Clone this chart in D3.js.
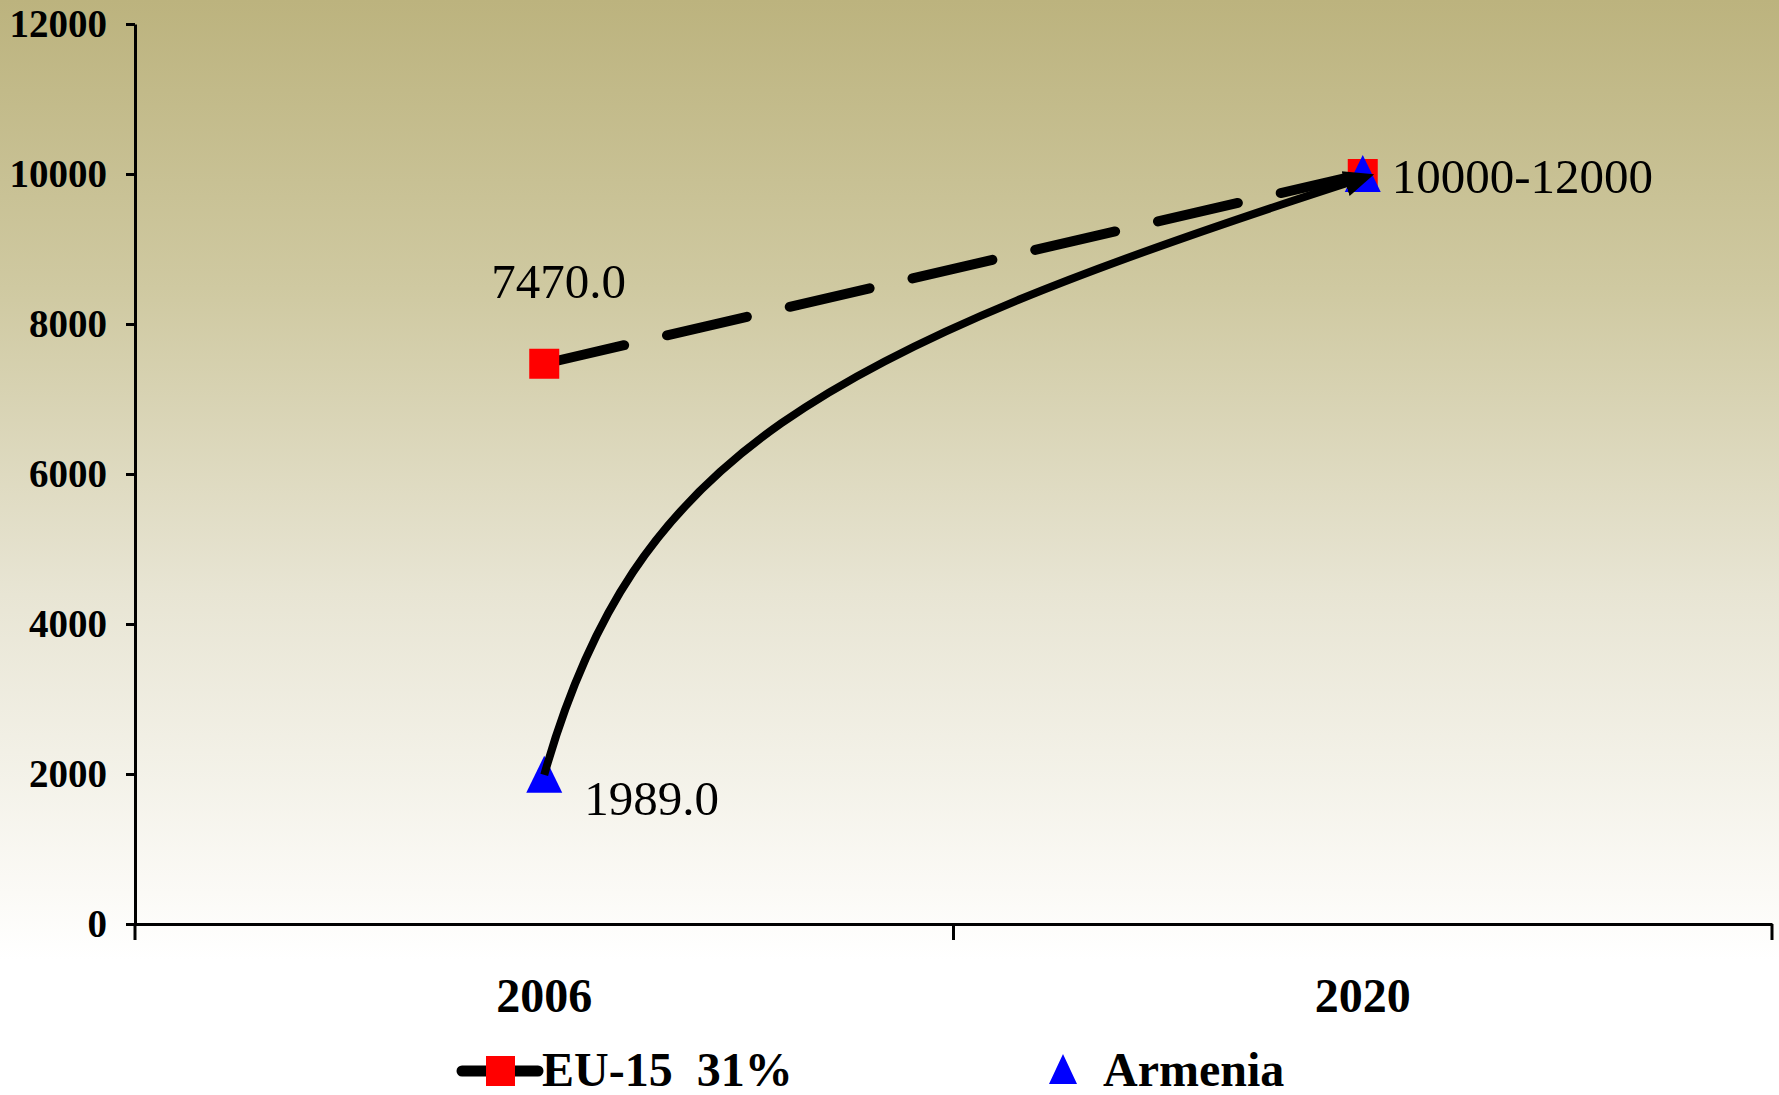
<!DOCTYPE html>
<html>
<head>
<meta charset="utf-8">
<script src="https://cdn.jsdelivr.net/npm/d3@7"></script>
<style>
  html, body { margin: 0; padding: 0; background: #fff; }
  svg { display: block; }
</style>
</head>
<body>
<svg id="viz"></svg>
<script>
// Chart values
const years = ["2006", "2020"];
const eu15Values = [7470, 10000];
const armeniaValues = [1989, 10000];
const yTicks = [0, 2000, 4000, 6000, 8000, 10000, 12000];
const seriesNames = ["EU-15  31%", "Armenia"];
const eu15Labels = ["7470.0", "10000-12000"];
const armeniaLabels = ["1989.0"];

const width = 1779, height = 1095;
const FONT = "'Liberation Serif', 'Times New Roman', serif";

const svg = d3.select("#viz")
  .attr("width", width)
  .attr("height", height);

const defs = svg.append("defs");

// Background gradient (olive to white)
const grad = defs.append("linearGradient")
  .attr("id", "bg")
  .attr("gradientUnits", "userSpaceOnUse")
  .attr("x1", 0).attr("y1", 0)
  .attr("x2", 0).attr("y2", 960);
grad.append("stop").attr("offset", 0).attr("stop-color", "#bcb37e");
grad.append("stop").attr("offset", 0.3).attr("stop-color", "#cfc9a1");
grad.append("stop").attr("offset", 0.62).attr("stop-color", "#e8e5d4");
grad.append("stop").attr("offset", 0.93).attr("stop-color", "#fbfaf6");
grad.append("stop").attr("offset", 1).attr("stop-color", "#ffffff");

svg.append("rect")
  .attr("width", width)
  .attr("height", height)
  .attr("fill", "url(#bg)");

// Arrowhead
defs.append("marker")
  .attr("id", "arrow")
  .attr("markerUnits", "userSpaceOnUse")
  .attr("viewBox", "0 -14 30 28")
  .attr("markerWidth", 30)
  .attr("markerHeight", 28)
  .attr("refX", 18)
  .attr("refY", 0)
  .attr("orient", "auto")
  .append("path")
  .attr("d", "M0,-13L30,0L0,13Z")
  .attr("fill", "#000");

// Scales
const x = d3.scaleBand().domain(years).range([135, 1772]);
const y = d3.scaleLinear().domain([0, 12000]).range([924, 24]);
const cx = d => x(d) + x.bandwidth() / 2;

// Y axis
const yAxis = svg.append("g")
  .attr("transform", "translate(135,0)")
  .call(d3.axisLeft(y).tickValues(yTicks).tickSize(9).tickSizeOuter(0).tickPadding(19).tickFormat(d3.format("d")));
yAxis.select(".domain").attr("stroke-width", 3);
yAxis.selectAll(".tick line").attr("stroke-width", 3);
yAxis.selectAll("text")
  .style("font-family", FONT)
  .style("font-weight", "bold")
  .style("font-size", "39px")
  .attr("fill", "#000");

// X axis (labels centred in bands, ticks at band edges)
const xAxis = svg.append("g")
  .attr("transform", `translate(0,${y(0)})`)
  .call(d3.axisBottom(x).tickSize(0).tickSizeOuter(0).tickPadding(54));
xAxis.select(".domain").attr("stroke-width", 3);
xAxis.selectAll("text")
  .style("font-family", FONT)
  .style("font-weight", "bold")
  .style("font-size", "48px")
  .attr("fill", "#000");

const edges = [x.range()[0]].concat(years.map(d => x(d) + x.bandwidth()));
xAxis.selectAll(".edge")
  .data(edges)
  .enter()
  .append("line")
  .attr("x1", d => d).attr("x2", d => d)
  .attr("y1", 0).attr("y2", 16)
  .attr("stroke", "#000")
  .attr("stroke-width", 3);

// EU-15 dashed line
const euPts = years.map((d, i) => [cx(d), y(eu15Values[i])]);
svg.append("path")
  .attr("d", d3.line()(euPts))
  .attr("fill", "none")
  .attr("stroke", "#000")
  .attr("stroke-width", 10)
  .attr("stroke-linecap", "round")
  .attr("stroke-dasharray", "82 44");

// Markers
const triPath = "M0,-19L18,18L-18,18Z";
svg.selectAll(".eu-dot")
  .data(euPts)
  .enter()
  .append("rect")
  .attr("class", "eu-dot")
  .attr("x", d => d[0] - 15)
  .attr("y", d => d[1] - 15)
  .attr("width", 30)
  .attr("height", 30)
  .attr("fill", "#ff0000");

const amPts = years.map((d, i) => [cx(d), y(armeniaValues[i])]);
svg.selectAll(".am-dot")
  .data(amPts)
  .enter()
  .append("path")
  .attr("class", "am-dot")
  .attr("d", triPath)
  .attr("transform", d => `translate(${d[0]},${d[1]})`)
  .attr("fill", "#0000ff");

// Armenia curved arrow (drawn over the markers)
const [a0, a1] = amPts;
const dx = a1[0] - a0[0], dy = a1[1] - a0[1];
const curve = d3.path();
curve.moveTo(a0[0], a0[1]);
curve.bezierCurveTo(
  a0[0] + 0.11 * dx, a0[1] + 0.53 * dy,
  a0[0] + 0.33 * dx, a0[1] + 0.70 * dy,
  a1[0], a1[1] + 4);
svg.append("path")
  .attr("d", curve.toString())
  .attr("fill", "none")
  .attr("stroke", "#000")
  .attr("stroke-width", 8)
  .attr("marker-end", "url(#arrow)");

// Data labels
const labelStyle = sel => sel
  .style("font-family", FONT)
  .style("font-size", "49px")
  .attr("fill", "#000");

svg.append("text")
  .attr("x", euPts[0][0] - 53)
  .attr("y", euPts[0][1] - 66)
  .text(eu15Labels[0])
  .call(labelStyle);
svg.append("text")
  .attr("x", euPts[1][0] + 29)
  .attr("y", euPts[1][1] + 19)
  .text(eu15Labels[1])
  .call(labelStyle);
svg.append("text")
  .attr("x", a0[0] + 40)
  .attr("y", a0[1] + 40)
  .text(armeniaLabels[0])
  .call(labelStyle);

// Legend
const legY = 1071;
const leg = svg.append("g");
leg.append("line")
  .attr("x1", 462).attr("x2", 538)
  .attr("y1", legY).attr("y2", legY)
  .attr("stroke", "#000")
  .attr("stroke-width", 11)
  .attr("stroke-linecap", "round");
leg.append("rect")
  .attr("x", 486).attr("y", legY - 15)
  .attr("width", 29).attr("height", 30)
  .attr("fill", "#ff0000");
leg.append("text")
  .attr("x", 542).attr("y", legY + 15)
  .style("white-space", "pre")
  .text(seriesNames[0])
  .call(labelStyle)
  .style("font-size", "48px")
  .style("font-weight", "bold");

leg.append("path")
  .attr("d", "M0,-15L14,15L-14,15Z")
  .attr("transform", `translate(1063,${legY - 2})`)
  .attr("fill", "#0000ff");
leg.append("text")
  .attr("x", 1103).attr("y", legY + 15)
  .text(seriesNames[1])
  .call(labelStyle)
  .style("font-size", "48px")
  .style("font-weight", "bold");
</script>
</body>
</html>
